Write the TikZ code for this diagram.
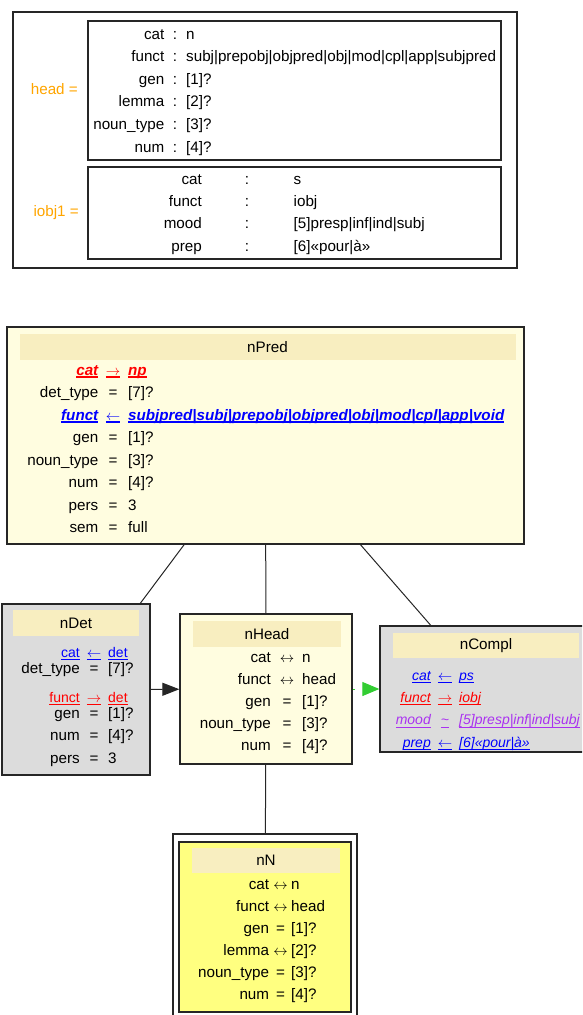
\documentclass[tikz,border=0pt]{standalone}
\usepackage{fontspec}
\setmainfont{Liberation Sans}
\usetikzlibrary{fit,arrows.meta}
\definecolor{hdr}{RGB}{248,238,192}
\definecolor{pale}{RGB}{255,253,224}
\definecolor{nyel}{RGB}{255,255,128}
\definecolor{gry}{RGB}{220,220,220}
\definecolor{org}{RGB}{255,165,0}
\definecolor{grn}{RGB}{50,205,50}
\definecolor{purp}{RGB}{170,50,240}
\newsavebox\ulbox
\newcommand\ul[2][1.3pt]{\sbox\ulbox{#2}\rlap{\rule[-3pt]{\wd\ulbox}{#1}}\usebox\ulbox}
\newcommand\ra{$\rightarrow$}
\newcommand\la{$\leftarrow$}
\newcommand\lra{$\leftrightarrow$}
\newcommand\frow[9][txt]{%
  \node[#1,anchor=mid east] (#2l) at (#4,#3+3.5) {#7};
  \node[#1,anchor=mid] (#2o) at (#5,#3+3.5) {#8};
  \node[#1,anchor=mid west] (#2v) at (#6,#3+3.5) {#9};}
\tikzset{
  box/.style={draw=black!85, line width=1.3pt, inner sep=0pt},
  txt/.style={inner sep=0pt, font=\fontsize{15.2}{18}\selectfont},
  stxt/.style={inner sep=0pt, font=\fontsize{14}{17}\selectfont},
  sblue/.style={stxt, text=blue},
  sred/.style={stxt, text=red},
  iblue/.style={stxt, text=blue, font=\fontsize{14}{17}\selectfont\itshape},
  ired/.style={stxt, text=red, font=\fontsize{14}{17}\selectfont\itshape},
  ipurp/.style={stxt, text=purp, font=\fontsize{14}{17}\selectfont\itshape},
  bred/.style={inner sep=0pt, text=red, font=\fontsize{15.2}{18}\selectfont\bfseries\itshape},
  bblue/.style={inner sep=0pt, text=blue, font=\fontsize{15.2}{18}\selectfont\bfseries\itshape},
  band/.style={fill=hdr, inner sep=0pt, font=\fontsize{15.2}{18}\selectfont},
  edge/.style={line width=1pt, black!85},
}
\begin{document}
\begin{tikzpicture}[x=1pt,y=-1pt]
\useasboundingbox (0,0) rectangle (582,1015);
\clip (0,0) rectangle (582,1015);
% ---------- top environment ----------
\node[box, fit={(13,12) (517,268)}] (env) {};
\node[box, fit={(88,21) (501,160)}] (headbox) {};
\node[box, fit={(88,167) (501,259)}] (iobjbox) {};
\node[txt, text=org, anchor=mid east] (headlbl) at (78,92) {head =};
\node[txt, text=org, anchor=mid east] (iobjlbl) at (79,214) {iobj1 =};
\frow{h1}{33}{164.5}{175}{186}{cat}{:}{n}
\frow{h2}{55.6}{164.5}{175}{186}{funct}{:}{subj|prepobj|objpred|obj|mod|cpl|app|subjpred}
\frow{h3}{78.2}{164.5}{175}{186}{gen}{:}{[1]?}
\frow{h4}{100.8}{164.5}{175}{186}{lemma}{:}{[2]?}
\frow{h5}{123.4}{164.5}{175}{186}{noun\_type}{:}{[3]?}
\frow{h6}{146}{164.5}{175}{186}{num}{:}{[4]?}
\frow{i1}{178}{202}{247}{293.5}{cat}{:}{s}
\frow{i2}{200.3}{202}{247}{293.5}{funct}{:}{iobj}
\frow{i3}{222.6}{202}{247}{293.5}{mood}{:}{[5]presp|inf|ind|subj}
\frow{i4}{245}{202}{247}{293.5}{prep}{:}{[6]«pour|à»}
% ---------- nPred ----------
\node[box, fill=pale, fit={(7,327) (524,544)}] (nPred) {};
\node[band, minimum width=496pt, minimum height=26pt] (nPredT) at (267.5,347) {nPred};
\frow[bred]{p1}{369}{98.5}{113}{128}{\ul[1.8pt]{cat}}{\ul[1.8pt]{\ra}}{\ul[1.8pt]{np}}
\frow{p2}{391.5}{98.5}{113}{128}{det\_type}{=}{[7]?}
\frow[bblue]{p3}{414}{98.5}{113}{128}{\ul[1.8pt]{funct}}{\ul[1.8pt]{\la}}{\ul[1.8pt]{subjpred|subj|prepobj|objpred|obj|mod|cpl|app|void}}
\frow{p4}{436.5}{98.5}{113}{128}{gen}{=}{[1]?}
\frow{p5}{459}{98.5}{113}{128}{noun\_type}{=}{[3]?}
\frow{p6}{481.5}{98.5}{113}{128}{num}{=}{[4]?}
\frow{p7}{504}{98.5}{113}{128}{pers}{=}{3}
\frow{p8}{526}{98.5}{113}{128}{sem}{=}{full}
% ---------- nDet ----------
\node[box, fill=gry, fit={(2,604) (150,775)}] (nDet) {};
\node[band, minimum width=126pt, minimum height=26pt] (nDetT) at (76,623) {nDet};
\frow[sblue]{d1}{651}{80}{94}{108}{\ul[1.1pt]{cat}}{\ul[1.1pt]{\la}}{\ul[1.1pt]{det}}
\frow{d2}{667}{80}{94}{108}{det\_type}{=}{[7]?}
\frow[sred]{d3}{696}{80}{94}{108}{\ul[1.1pt]{funct}}{\ul[1.1pt]{\ra}}{\ul[1.1pt]{det}}
\frow{d4}{712}{80}{94}{108}{gen}{=}{[1]?}
\frow{d5}{734.5}{80}{94}{108}{num}{=}{[4]?}
\frow{d6}{757}{80}{94}{108}{pers}{=}{3}
% ---------- nHead ----------
\node[box, fill=pale, fit={(180,614) (352,764)}] (nHead) {};
\node[band, minimum width=148pt, minimum height=26pt] (nHeadT) at (267,634) {nHead};
\frow{e1}{656.5}{271}{287}{302}{cat}{\lra}{n}
\frow{e2}{678.5}{271}{287}{302}{funct}{\lra}{head}
\frow{e3}{700.5}{271}{287}{302}{gen}{=}{[1]?}
\frow{e4}{722.5}{271}{287}{302}{noun\_type}{=}{[3]?}
\frow{e5}{744.5}{271}{287}{302}{num}{=}{[4]?}
% ---------- nCompl ----------
\node[box, fill=gry, fit={(380,626) (592,752)}] (nCompl) {};
\node[band, minimum width=186pt, minimum height=25pt] (nComplT) at (486,645.5) {nCompl};
\frow[iblue]{c1}{674}{431}{445}{459}{\ul[1.1pt]{cat}}{\ul[1.1pt]{\la}}{\ul[1.1pt]{ps}}
\frow[ired]{c2}{696}{431}{445}{459}{\ul[1.1pt]{funct}}{\ul[1.1pt]{\ra}}{\ul[1.1pt]{iobj}}
\frow[ipurp]{c3}{718.5}{431}{445}{459}{\ul[1.1pt]{mood}}{\ul[1.1pt]{\textasciitilde}}{\ul[1.1pt]{[5]presp|inf|ind|subj}}
\frow[iblue]{c4}{741}{431}{445}{459}{\ul[1.1pt]{prep}}{\ul[1.1pt]{\la}}{\ul[1.1pt]{[6]«pour|à»}}
% ---------- nN ----------
\node[box, fit={(173,834) (357,1019)}] (nNout) {};
\node[box, fill=nyel, fit={(179,842) (351,1012)}] (nN) {};
\node[band, minimum width=148pt, minimum height=25pt] (nNT) at (266,860.5) {nN};
\frow{n1}{883}{269.3}{280.5}{291}{cat}{\lra}{n}
\frow{n2}{905}{269.3}{280.5}{291}{funct}{\lra}{head}
\frow{n3}{927}{269.3}{280.5}{291}{gen}{=}{[1]?}
\frow{n4}{949}{269.3}{280.5}{291}{lemma}{\lra}{[2]?}
\frow{n5}{971}{269.3}{280.5}{291}{noun\_type}{=}{[3]?}
\frow{n6}{993}{269.3}{280.5}{291}{num}{=}{[4]?}
% ---------- edges ----------
\draw[edge] (nPred) -- (nDet);
\draw[edge] (nPred) -- (nHead);
\draw[edge] (nPred) -- (nCompl);
\draw[edge] (nHead) -- (nNout);
\draw[edge, -{Triangle[length=17pt,width=13pt]}] (nDet) -- (nHead);
\draw[grn, line width=1pt, dash pattern=on 2pt off 30pt, -{Triangle[length=17pt,width=14pt]}] (nHead) -- (nCompl);
\end{tikzpicture}
\end{document}
